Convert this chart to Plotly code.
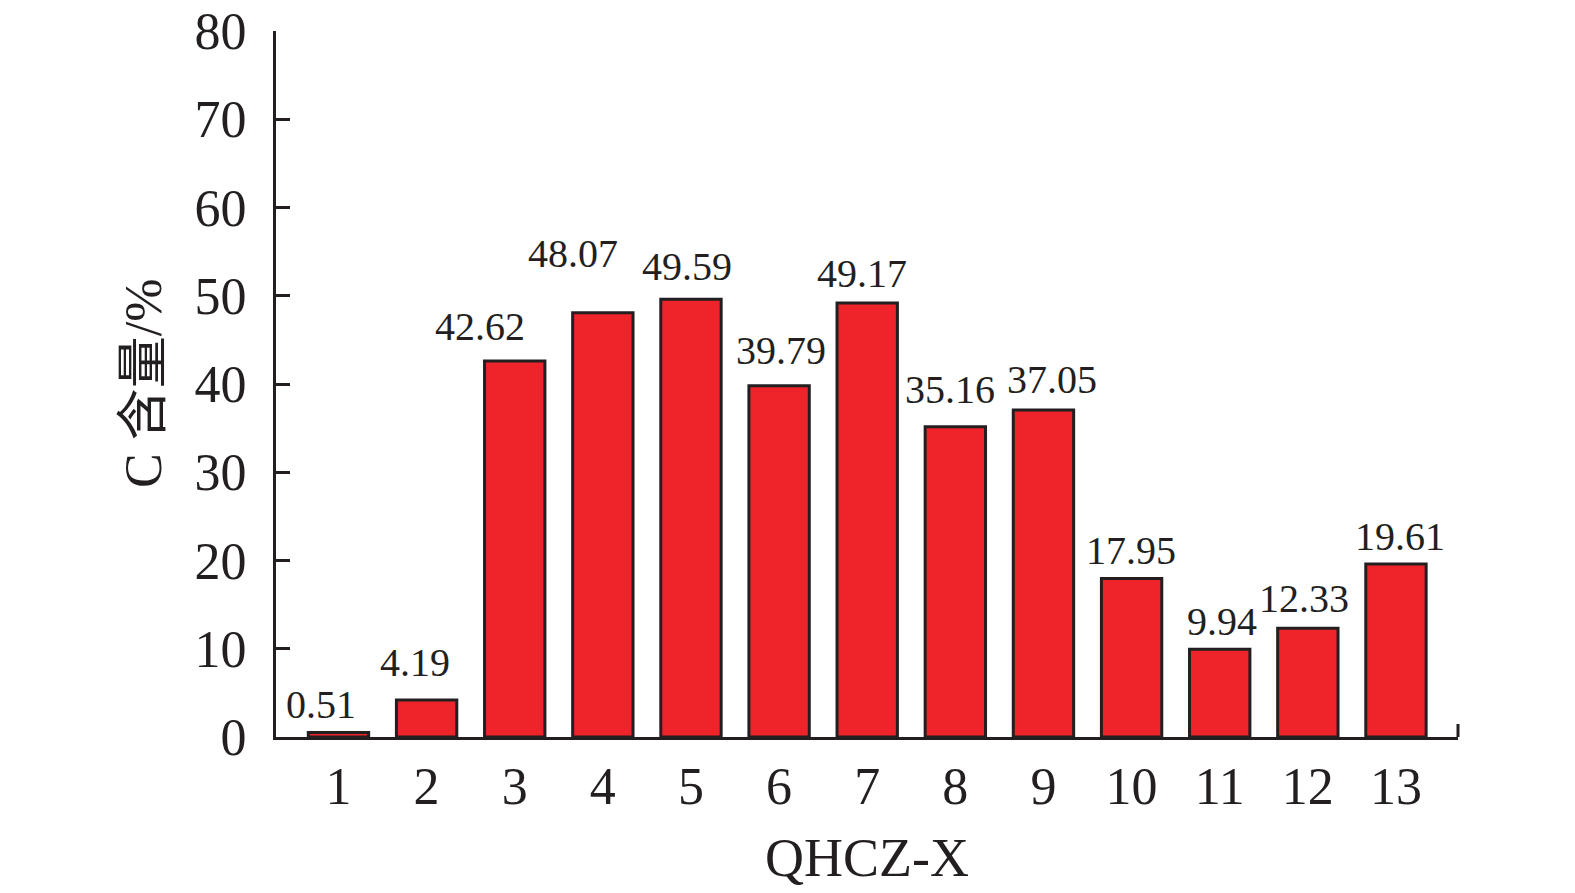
import plotly.graph_objects as go

categories = list(range(1, 14))
values = [0.51, 4.19, 42.62, 48.07, 49.59, 39.79, 49.17, 35.16, 37.05, 17.95, 9.94, 12.33, 19.61]
value_labels = ["0.51", "4.19", "42.62", "48.07", "49.59", "39.79", "49.17", "35.16", "37.05", "17.95", "9.94", "12.33", "19.61"]
y_ticks = [0, 10, 20, 30, 40, 50, 60, 70, 80]
x_title = "QHCZ-X"
y_title = "C 含量/%"

# label placement tweaks (pixels), as in the reference layout
label_dx = [-17, -12, -35, -30, -4, 2, -5, -5, 9, -1, 2, -4, 4]
label_gap = [13, 22, 19, 44, 17, 20, 14, 22, 15, 13, 12, 14, 12]

FONT = "Liberation Serif, Times New Roman, Noto Sans CJK SC, serif"
INK = "#231F20"

fig = go.Figure()
fig.add_trace(go.Bar(
    x=categories, y=values, width=0.685,
    marker=dict(color="#EE242A", line=dict(color=INK, width=3)),
    hoverinfo="x+y",
))

for c, v, t, dx, g in zip(categories, values, value_labels, label_dx, label_gap):
    fig.add_annotation(x=c, y=v, text=t, showarrow=False, yanchor="bottom",
                       xshift=dx, yshift=g - 8, borderpad=0,
                       font=dict(family=FONT, size=40, color=INK))

fig.add_annotation(x=0.5, xref="paper", y=0, yref="paper", yshift=-121, yanchor="middle",
                   text=x_title, showarrow=False, borderpad=0,
                   font=dict(family=FONT, size=54, color=INK))
fig.add_annotation(x=0, xref="paper", xshift=-133, y=0.5, yref="paper", textangle=-90,
                   xanchor="center", yanchor="middle", text=y_title, showarrow=False,
                   font=dict(family=FONT, size=52, color=INK))

# small end tick at right end of x axis
fig.add_shape(type="line", xref="paper", yref="paper", x0=1, x1=1,
              ysizemode="pixel", yanchor=0, y0=0, y1=13,
              line=dict(color=INK, width=3))

# the page body adds an 8px offset, so the figure is sized to fit the window
fig.update_layout(
    width=1567, height=885,
    margin=dict(l=268, r=117, t=23, b=156, autoexpand=False),
    plot_bgcolor="white", paper_bgcolor="white",
    showlegend=False,
    font=dict(family=FONT, color=INK),
)
fig.update_xaxes(range=[0.291, 13.704], tickmode="array", tickvals=categories,
                 ticktext=[str(c) for c in categories], ticks="", automargin=False,
                 showline=True, linecolor=INK, linewidth=3, showgrid=False, zeroline=False,
                 tickfont=dict(family=FONT, size=52, color=INK), ticklabelstandoff=2)
fig.update_yaxes(range=[0, 80], tickmode="array", tickvals=y_ticks, automargin=False,
                 ticks="inside", ticklen=14, tickwidth=3, tickcolor=INK,
                 ticklabeloverflow="allow",
                 showline=True, linecolor=INK, linewidth=3, showgrid=False, zeroline=False,
                 tickfont=dict(family=FONT, size=52, color=INK), ticklabelstandoff=16)

fig.write_html("out.html")
